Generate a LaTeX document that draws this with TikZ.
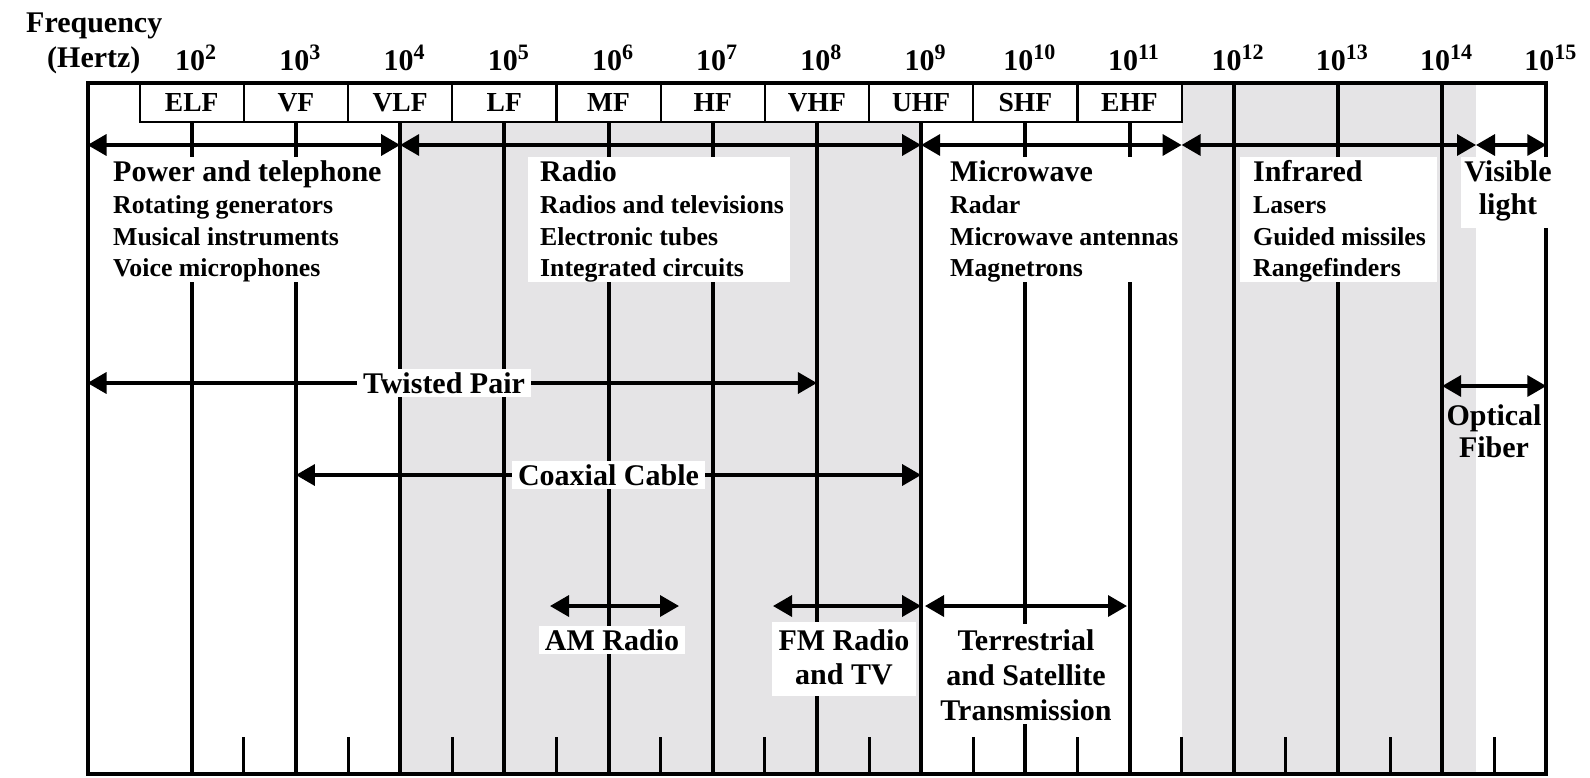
\documentclass[tikz,border=0pt]{standalone}
\usepackage{fontspec}
\setmainfont{Liberation Serif}
\usetikzlibrary{arrows.meta}
\definecolor{bandgray}{RGB}{229,228,230}
\newcommand\pw[1]{10\raisebox{11pt}{\fontsize{22}{22}\selectfont #1}}
\tikzset{
 titletxt/.style={font=\bfseries\fontsize{30}{32}\selectfont},
 itemtxt/.style={font=\bfseries\fontsize{25.8}{32}\selectfont},
 exptxt/.style={font=\bfseries\fontsize{30}{32}\selectfont},
 lbl/.style={inner sep=0pt, anchor=base west},
 clbl/.style={inner sep=0pt, anchor=base},
 dline/.style={line width=4pt},
 htick/.style={line width=3pt},
 boxframe/.style={line width=4pt},
 bandbox/.style={draw, line width=2.2pt, fill=white, minimum width=104.2pt, minimum height=39pt, inner sep=0pt, font=\bfseries\fontsize{27.5}{30}\selectfont},
 dbl/.style={line width=3.5pt, {Triangle[length=19pt,width=21pt]}-{Triangle[length=19pt,width=21pt]}},
 wbox/.style={fill=white, inner xsep=6pt, inner ysep=3pt},
 whitebg/.style={fill=white},
 grayband/.style={fill=bandgray},
}
\begin{document}
\begin{tikzpicture}[x=1pt,y=-1pt]
\useasboundingbox (0,0) rectangle (1590,777);
% gray regions
\fill[grayband] (400.1,83) rectangle (921.1,774);
\fill[grayband] (1181.6,83) rectangle (1476,774);
% band boxes
\foreach \n/\t in {2/ELF,3/VF,4/VLF,5/LF,6/MF,7/HF,8/VHF,9/UHF,10/SHF,11/EHF}
  \node[bandbox] (b\n) at ({104.2*\n-16.7},102.5) {\t};
% decade lines
\foreach \n in {2,...,11}
  \draw[dline] ({104.2*\n-16.7},122) -- ({104.2*\n-16.7},774);
\foreach \n in {12,13,14}
  \draw[dline] ({104.2*\n-16.7},83) -- ({104.2*\n-16.7},774);
% half-decade ticks
\foreach \n in {2,...,14}
  \draw[htick] ({104.2*\n+35.4},737) -- ({104.2*\n+35.4},774);
% frame
\draw[boxframe] (87.5,83) rectangle (1546.3,774);
% header
\node[lbl,titletxt] (freq) at (26,32) {Frequency};
\node[lbl,titletxt] (hz) at (47,67) {(Hertz)};
\foreach \n in {2,...,15}
  \node[clbl,exptxt] (e\n) at ({104.2*\n-16.7+4},70) {\pw{\n}};
% top arrows
\coordinate (a1) at (87.5,145);
\coordinate (a4) at (400.1,145);
\coordinate (a9) at (921.1,145);
\coordinate (a11) at (1181.6,145);
\coordinate (a14) at (1476,145);
\coordinate (a15) at (1546.3,145);
\draw[dbl] (a1) -- (a4);
\draw[dbl] (a4) -- (a9);
\draw[dbl] (a9) -- (a11);
\draw[dbl] (a11) -- (a14);
\draw[dbl] (a14) -- (a15);
% middle arrows
\coordinate (tp1) at (87.5,383);
\coordinate (tp2) at (816.9,383);
\coordinate (cx1) at (295.9,475);
\coordinate (cx2) at (921.1,475);
\coordinate (of1) at (1442.1,386);
\coordinate (of2) at (1546.3,386);
\coordinate (am1) at (550,606);
\coordinate (am2) at (679,606);
\coordinate (fm1) at (773,606);
\coordinate (fm2) at (921.1,606);
\coordinate (ts1) at (925,606);
\coordinate (ts2) at (1127,606);
\draw[dbl] (tp1) -- (tp2);
\draw[dbl] (cx1) -- (cx2);
\draw[dbl] (of1) -- (of2);
\draw[dbl] (am1) -- (am2);
\draw[dbl] (fm1) -- (fm2);
\draw[dbl] (ts1) -- (ts2);
% text blocks
\fill[whitebg] (105,157) rectangle (392,282);
\node[lbl,titletxt] (pw0) at (113,181.5) {Power and telephone};
\node[lbl,itemtxt] (pw1) at (113,213.5) {Rotating generators};
\node[lbl,itemtxt] (pw2) at (113,245) {Musical instruments};
\node[lbl,itemtxt] (pw3) at (113,276.5) {Voice microphones};
\fill[whitebg] (528,157) rectangle (790,282);
\node[lbl,titletxt] (ra0) at (540,181.5) {Radio};
\node[lbl,itemtxt] (ra1) at (540,213.5) {Radios and televisions};
\node[lbl,itemtxt] (ra2) at (540,245) {Electronic tubes};
\node[lbl,itemtxt] (ra3) at (540,276.5) {Integrated circuits};
\fill[whitebg] (942,157) rectangle (1181,282);
\node[lbl,titletxt] (mw0) at (950,181.5) {Microwave};
\node[lbl,itemtxt] (mw1) at (950,213.5) {Radar};
\node[lbl,itemtxt] (mw2) at (950,245) {Microwave antennas};
\node[lbl,itemtxt] (mw3) at (950,276.5) {Magnetrons};
\fill[whitebg] (1240,157) rectangle (1437,282);
\node[lbl,titletxt] (ir0) at (1253,181.5) {Infrared};
\node[lbl,itemtxt] (ir1) at (1253,213.5) {Lasers};
\node[lbl,itemtxt] (ir2) at (1253,245) {Guided missiles};
\node[lbl,itemtxt] (ir3) at (1253,276.5) {Rangefinders};
\fill[whitebg] (1461,157) rectangle (1553,228);
\node[clbl,titletxt] (vl0) at (1508,181.5) {Visible};
\node[clbl,titletxt] (vl1) at (1508,214) {light};
% middle labels
\node[wbox,titletxt] (tp) at (444,383) {Twisted Pair};
\node[wbox,titletxt] (cx) at (608.5,475) {Coaxial Cable};
\node[clbl,titletxt] (of0) at (1494,425) {Optical};
\node[clbl,titletxt] (of1l) at (1494,457) {Fiber};
\node[wbox,titletxt] (am) at (612,640) {AM Radio};
\fill[whitebg] (772,622) rectangle (916,696);
\node[clbl,titletxt] (fm0) at (844,650) {FM Radio};
\node[clbl,titletxt] (fm1l) at (844,684) {and TV};
\fill[whitebg] (936,624) rectangle (1116,724);
\node[clbl,titletxt] (ts0) at (1026,650) {Terrestrial};
\node[clbl,titletxt] (ts1l) at (1026,685) {and Satellite};
\node[clbl,titletxt] (ts2l) at (1026,720) {Transmission};
\end{tikzpicture}
\end{document}
